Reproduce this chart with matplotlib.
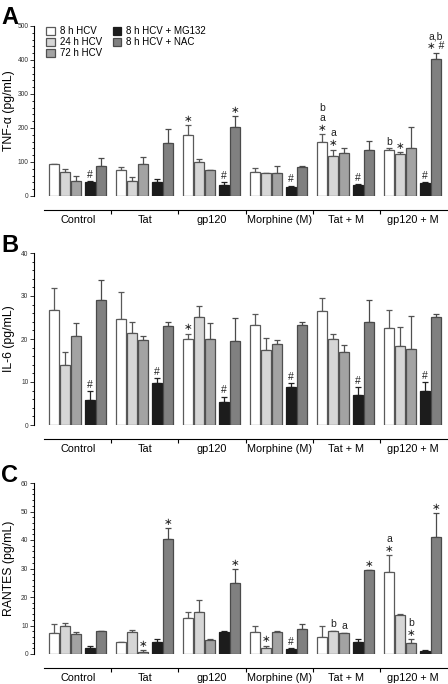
"""Cytokine release (TNF-a, IL-6, RANTES) by treatment group and HCV exposure.

Three stacked Prism-style bar panels, mean + upper SEM whisker.
"""
import matplotlib
matplotlib.use("Agg")
import matplotlib.pyplot as plt
import matplotlib.ticker as mticker
import numpy as np

plt.rcParams.update({
    "font.family": ["Liberation Sans", "DejaVu Sans"],
    "axes.linewidth": 0.8,
})

GROUPS = ["Control", "Tat", "gp120", "Morphine (M)", "Tat + M", "gp120 + M"]
SERIES = ["8 h HCV", "24 h HCV", "72 h HCV", "8 h HCV + MG132", "8 h HCV + NAC"]
COLORS = ["#ffffff", "#d6d6d6", "#a3a3a3", "#1c1c1c", "#808080"]
EDGES = ["#5a5a5a", "#555555", "#505050", "#1c1c1c", "#4a4a4a"]

# rows = groups, columns = series
TNF_MEAN = [[93, 71, 45, 42, 88],
            [77, 45, 95, 40, 155],
            [178, 101, 75, 32, 202],
            [71, 68, 69, 27, 85],
            [158, 119, 125, 32, 135],
            [135, 123, 142, 38, 402]]
TNF_ERR = [[2, 8, 14, 2, 24],
           [8, 11, 20, 11, 41],
           [31, 7, 0, 9, 33],
           [11, 1, 20, 3, 3],
           [23, 17, 16, 2, 27],
           [6, 6, 61, 3, 20]]
TNF_MARK = [["", "", "", "#", ""],
            ["", "", "", "", ""],
            ["∗", "", "", "#", "∗"],
            ["", "", "", "#", ""],
            ["b\na\n∗", "a\n∗", "", "#", ""],
            ["b", "∗", "", "#", "a,b\n∗ #"]]

IL6_MEAN = [[26.8, 13.9, 20.8, 5.7, 29.1],
            [24.6, 21.5, 19.7, 9.8, 23.0],
            [20.0, 25.2, 20.0, 5.4, 19.6],
            [23.2, 17.5, 18.8, 8.9, 23.2],
            [26.6, 20.1, 16.9, 7.0, 23.9],
            [22.6, 18.3, 17.6, 7.8, 25.1]]
IL6_ERR = [[5.0, 3.0, 2.9, 2.1, 4.7],
           [6.3, 2.4, 1.0, 1.1, 1.0],
           [1.2, 2.4, 3.8, 1.2, 5.3],
           [2.6, 2.8, 0.9, 0.8, 0.7],
           [2.9, 1.1, 1.7, 1.8, 5.1],
           [4.2, 4.4, 7.7, 2.1, 0.6]]
IL6_MARK = [["", "", "", "#", ""],
            ["", "", "", "#", ""],
            ["∗", "", "", "#", ""],
            ["", "", "", "#", ""],
            ["", "", "", "#", ""],
            ["", "", "", "#", ""]]

RANTES_MEAN = [[7.3, 9.9, 7.0, 2.1, 8.2],
               [4.1, 7.8, 0.7, 4.1, 40.2],
               [12.7, 14.8, 4.9, 7.6, 24.9],
               [7.7, 2.1, 7.8, 1.9, 8.7],
               [5.8, 8.2, 7.2, 4.1, 29.4],
               [28.6, 13.8, 3.7, 0.9, 41.0]]
RANTES_ERR = [[3.3, 0.9, 0.6, 0.6, 0.0],
              [0.0, 0.5, 0.7, 1.1, 3.9],
              [1.9, 4.1, 0.2, 0.6, 4.8],
              [2.1, 0.8, 0.2, 0.2, 2.0],
              [4.0, 0.0, 0.3, 1.0, 0.0],
              [6.0, 0.2, 1.5, 0.6, 8.3]]
RANTES_MARK = [["", "", "", "", ""],
               ["", "", "∗", "", "∗"],
               ["", "", "", "", "∗"],
               ["", "∗", "", "#", ""],
               ["", "b", "a", "", "∗"],
               ["a\n∗", "", "b\n∗", "", "∗"]]

# (letter, ylabel, means, errs, marks, ymax, major step, bottom px, top px)
PANELS = [
    ("A", "TNF-α (pg/mL)", TNF_MEAN, TNF_ERR, TNF_MARK, 500, 100, 196, 26),
    ("B", "IL-6 (pg/mL)", IL6_MEAN, IL6_ERR, IL6_MARK, 40, 10, 425, 253),
    ("C", "RANTES (pg/mL)", RANTES_MEAN, RANTES_ERR, RANTES_MARK, 60, 10, 654, 483),
]

W, H = 448, 684
OFFSETS = np.array([-0.358, -0.194, -0.03, 0.179, 0.343])
BAR_W = 0.15


def draw_panel(fig, letter, ylabel, means, errs, marks, ymax, step, y0, y1):
    left, right = 34, 446
    ax = fig.add_axes([left / W, 1 - y0 / H, (right - left) / W, (y0 - y1) / H])
    means = np.asarray(means, float)
    errs = np.asarray(errs, float)
    xg = np.arange(len(GROUPS))

    for j, name in enumerate(SERIES):
        x = xg + OFFSETS[j]
        ax.bar(x, means[:, j], BAR_W, color=COLORS[j], edgecolor=EDGES[j],
               linewidth=0.9, label=name, zorder=2)
        ax.errorbar(x, means[:, j], yerr=[np.zeros(len(xg)), errs[:, j]],
                    fmt="none", ecolor=EDGES[j] if j != 3 else "#222222",
                    elinewidth=0.9, capsize=2.2, capthick=0.9, zorder=1)
        for i in range(len(GROUPS)):
            txt = marks[i][j]
            if txt:
                ax.annotate(txt, (x[i], means[i, j] + errs[i, j]),
                            xytext=(0, 1), textcoords="offset points",
                            ha="center", va="bottom", fontsize=7.5,
                            linespacing=1.0, color="#222222")

    ax.set_xlim(-0.655, 5.49)
    ax.set_ylim(0, ymax)
    for s in ("top", "right"):
        ax.spines[s].set_visible(False)
    ax.spines["left"].set_bounds(0, ymax)
    ax.spines["bottom"].set_position(("outward", 10))
    ax.spines["bottom"].set_bounds(-0.5, 5.5)

    ax.yaxis.set_major_locator(mticker.MultipleLocator(step))
    ax.yaxis.set_minor_locator(mticker.AutoMinorLocator(5))
    ax.tick_params(axis="y", which="major", length=3, width=0.7,
                   labelsize=4.8, pad=1, colors="#333333")
    ax.tick_params(axis="y", which="minor", length=1.6, width=0.6)

    ax.set_xticks(np.arange(0.5, 5.0, 1.0))
    ax.set_xticklabels([])
    ax.set_xticks(xg, minor=True)
    ax.set_xticklabels(GROUPS, minor=True)
    ax.tick_params(axis="x", which="major", length=3, width=0.8, direction="out")
    ax.tick_params(axis="x", which="minor", length=0, labelsize=7.8, pad=4)

    fig.text(9 / W, 1 - (y0 + y1) / 2 / H, ylabel, rotation=90, fontsize=8.8,
             ha="center", va="center")
    fig.text(1 / W, 1 - (y1 - 8) / H, letter, fontsize=17, fontweight="bold",
             va="center", ha="left")
    return ax


def main():
    fig = plt.figure(figsize=(W / 100, H / 100), dpi=100)
    axes = [draw_panel(fig, *p) for p in PANELS]
    axes[0].legend(loc="upper left", bbox_to_anchor=(0.02, 1.02), ncol=2,
                   frameon=False, fontsize=7, handlelength=0.9,
                   handleheight=0.9, handletextpad=0.5, columnspacing=1.1,
                   labelspacing=0.1, borderaxespad=0)
    fig.savefig("out.png", dpi=100)


if __name__ == "__main__":
    main()
